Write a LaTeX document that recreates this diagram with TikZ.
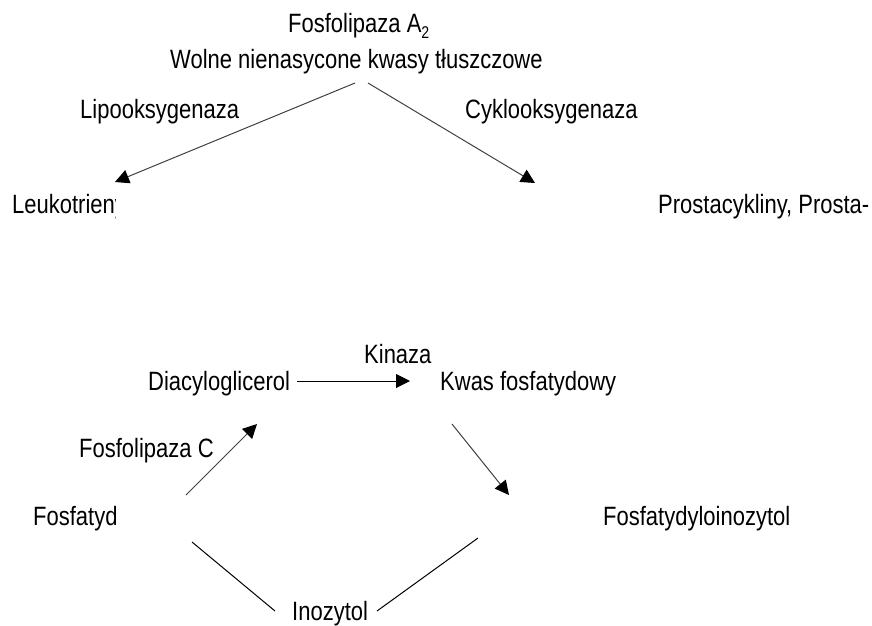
\documentclass[tikz,border=0pt]{standalone}
\usepackage{fontspec}
\setmainfont{Liberation Sans}[FakeStretch=0.83]
\usetikzlibrary{arrows.meta}
\begin{document}
\begin{tikzpicture}[x=1pt,y=-1pt,
  lbl/.style={anchor=base west,inner sep=0pt,font=\fontsize{26.5}{30}\selectfont},
  arr/.style={draw=black!75,line width=1pt,-{Triangle[length=14pt,width=14pt,color=black]}},
  conn/.style={draw=black,line width=1pt}]
\useasboundingbox (0,0) rectangle (872,625);
% texts
\node[lbl] (fa) at (288,32) {Fosfolipaza A\raisebox{-0.45ex}{\fontsize{17}{17}\selectfont 2}};
\node[lbl] (wolne) at (170,68) {Wolne nienasycone kwasy tłuszczowe};
\node[lbl] (lipo) at (80,118) {Lipooksygenaza};
\node[lbl] (cyklo) at (465,118) {Cyklooksygenaza};
\begin{scope}
  \clip (0,150) rectangle (115,230);
  \node[lbl] (leuko) at (12,213) {Leukotrieny};
\end{scope}
\node[lbl] (prosta) at (658,213) {Prostacykliny, Prosta-};
\node[lbl] (kinaza) at (364,363) {Kinaza};
\node[lbl] (diacyl) at (148,390) {Diacyloglicerol};
\node[lbl] (kwas) at (440,390) {Kwas fosfatydowy};
\node[lbl] (fc) at (79,457) {Fosfolipaza C};
\node[lbl] (fosfatyd) at (33,525) {Fosfatyd};
\node[lbl] (fpi) at (603,525) {Fosfatydyloinozytol};
\node[lbl] (ino) at (292,620) {Inozytol};
% connector ends
\coordinate (w1) at (355,83);
\coordinate (w2) at (368,83);
\coordinate (l1) at (115,182);
\coordinate (p1) at (535,183);
\coordinate (d1) at (297,381);
\coordinate (k1) at (410,381);
\coordinate (f1) at (186,495);
\coordinate (d2) at (257,424);
\coordinate (k2) at (452,424);
\coordinate (i1) at (509,495);
\coordinate (f2) at (192,542);
\coordinate (i2) at (275,611);
\coordinate (i3) at (377,611);
\coordinate (i4) at (478,538);
% connectors
\draw[arr] (w1) -- (l1);
\draw[arr] (w2) -- (p1);
\draw[arr,draw=black] (d1) -- (k1);
\draw[arr] (f1) -- (d2);
\draw[arr] (k2) -- (i1);
\draw[conn] (f2) -- (i2);
\draw[conn] (i3) -- (i4);
\end{tikzpicture}
\end{document}
